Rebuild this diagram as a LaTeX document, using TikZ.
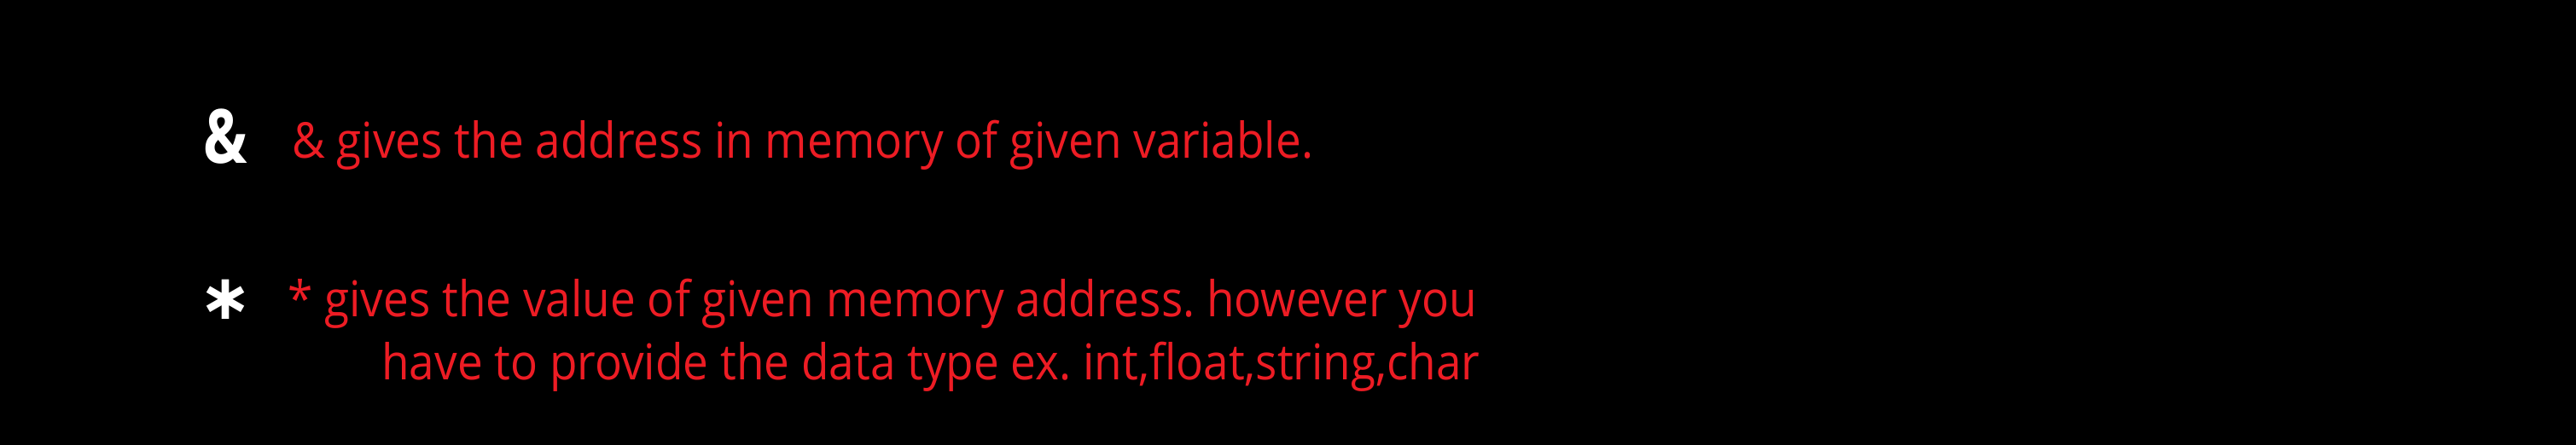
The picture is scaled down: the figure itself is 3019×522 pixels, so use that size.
\documentclass[tikz,border=0pt]{standalone}
\usepackage{fontspec}
\setmainfont{Open Sans}
\newfontfamily\redfont[FakeStretch=0.915]{Open Sans}
\newfontfamily\ampfont[FakeStretch=0.78]{Open Sans}
\newfontfamily\symfont{DejaVu Sans}
\definecolor{txtred}{RGB}{237,28,36}
\tikzset{
  redtxt/.style={text=txtred, inner sep=0pt, anchor=base west, font=\redfont\frenchspacing\fontsize{29pt}{34pt}\selectfont},
  whitesym/.style={text=white, inner sep=0pt}
}
\begin{document}
\begin{tikzpicture}[x=0.5pt,y=-0.5pt]
\useasboundingbox (0,0) rectangle (3019,522);
\fill[black] (0,0) rectangle (3019,522);
\node[whitesym, anchor=base west, font=\ampfont\bfseries\fontsize{44pt}{50pt}\selectfont] (amp) at (238,192) {\&};
\node[whitesym, font=\symfont\bfseries\fontsize{37pt}{44pt}\selectfont] (star) at (264,351) {∗};
\node[redtxt] (l1) at (342,186) {\& gives the address in memory of given variable.};
\node[redtxt] (l2) at (337,372) {* gives the value of given memory address. however you};
\node[redtxt] (l3) at (447,446) {have to provide the data type ex. int,float,string,char};
\end{tikzpicture}
\end{document}
